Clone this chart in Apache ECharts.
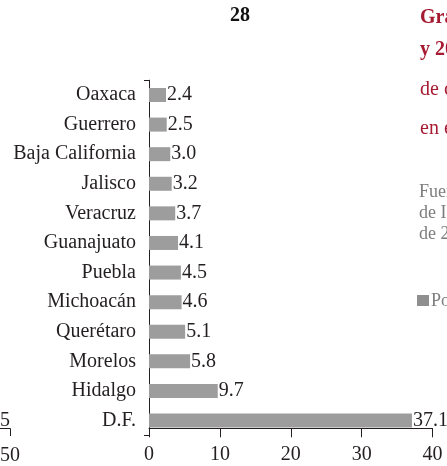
<!DOCTYPE html>
<html>
<head>
<meta charset="utf-8">
<script src="https://cdn.jsdelivr.net/npm/echarts@6/dist/echarts.min.js"></script>
<style>
  html, body { margin: 0; padding: 0; background: #fff; }
  #main { width: 447px; height: 466px; }
</style>
</head>
<body>
<div id="main"></div>
<script>
// datos de la gráfica (de arriba hacia abajo)
const states = ['Oaxaca', 'Guerrero', 'Baja California', 'Jalisco', 'Veracruz', 'Guanajuato',
  'Puebla', 'Michoacán', 'Querétaro', 'Morelos', 'Hidalgo', 'D.F.'];
const values = [2.4, 2.5, 3.0, 3.2, 3.7, 4.1, 4.5, 4.6, 5.1, 5.8, 9.7, 37.1];
const xTicks = [0, 10, 20, 30, 40];

const serif = '"Liberation Serif", "DejaVu Serif", serif';
const ink = '#231f20';
const red = '#a51a30';
const grey = '#7d7d7d';

var chart = echarts.init(document.getElementById('main'));

var option = {
  animation: false,
  textStyle: { fontFamily: serif },
  grid: { left: 149, right: 14.5, top: 80.2, bottom: 30.7, containLabel: false },
  xAxis: {
    type: 'value',
    min: xTicks[0],
    max: xTicks[xTicks.length - 1],
    interval: xTicks[1] - xTicks[0],
    offset: -7,
    splitLine: { show: false },
    axisLine: { show: true, lineStyle: { color: ink, width: 1 } },
    axisTick: { show: true, inside: false, length: 9, lineStyle: { color: ink } },
    axisLabel: { color: ink, fontSize: 20, fontFamily: serif, margin: 16 }
  },
  yAxis: {
    type: 'category',
    data: states,
    inverse: true,
    axisLine: { show: true, lineStyle: { color: ink, width: 1 } },
    axisTick: {
      show: true, length: 5, lineStyle: { color: ink },
      interval: function (index) { return index === 0; }
    },
    axisLabel: { color: ink, fontSize: 20, fontFamily: serif, margin: 13, padding: [4, 0, 0, 0] }
  },
  series: [{
    type: 'bar',
    data: values,
    barWidth: 14,
    itemStyle: { color: '#9d9d9d' },
    label: {
      show: true,
      position: 'right',
      distance: 1,
      color: ink,
      fontSize: 20,
      fontFamily: serif,
      padding: [3, 0, 0, 0],
      formatter: function (p) { return p.value.toFixed(1); }
    }
  }],
  graphic: [
    // número de página
    { type: 'text', x: 240, y: 16, style: { text: '28', font: 'bold 20px ' + serif, fill: '#111', align: 'center', verticalAlign: 'middle' } },
    // título (cortado por el borde)
    { type: 'text', x: 420, y: 18, style: { text: 'Gráfica 3. Porcentaje', font: 'bold 20px ' + serif, fill: red, verticalAlign: 'middle' } },
    { type: 'text', x: 420, y: 50, style: { text: 'y 2010', font: 'bold 20px ' + serif, fill: red, verticalAlign: 'middle' } },
    { type: 'text', x: 420, y: 90, style: { text: 'de crecimiento', font: '20px ' + serif, fill: red, verticalAlign: 'middle' } },
    { type: 'text', x: 420, y: 129, style: { text: 'en el periodo', font: '20px ' + serif, fill: red, verticalAlign: 'middle' } },
    // fuente
    { type: 'text', x: 419, y: 192, style: { text: 'Fuente: elaboración', font: '18px ' + serif, fill: grey, verticalAlign: 'middle' } },
    { type: 'text', x: 419, y: 213, style: { text: 'de INEGI', font: '18px ' + serif, fill: grey, verticalAlign: 'middle' } },
    { type: 'text', x: 419, y: 234, style: { text: 'de 2010', font: '18px ' + serif, fill: grey, verticalAlign: 'middle' } },
    // leyenda
    { type: 'rect', shape: { x: 417, y: 295, width: 12, height: 11 }, style: { fill: '#8f8f8f' } },
    { type: 'text', x: 431, y: 301, style: { text: 'Porcentaje', font: '18px ' + serif, fill: grey, verticalAlign: 'middle' } },
    // restos de la gráfica vecina
    { type: 'text', x: 10, y: 421, style: { text: '5', font: '20px ' + serif, fill: ink, align: 'right', verticalAlign: 'middle' } },
    { type: 'polyline', shape: { points: [[0, 428.5], [10.5, 428.5], [10.5, 436]] }, style: { stroke: ink, lineWidth: 1, fill: null } },
    { type: 'text', x: 10, y: 456, style: { text: '50', font: '20px ' + serif, fill: ink, align: 'center', verticalAlign: 'middle' } }
  ]
};

chart.setOption(option);
</script>
</body>
</html>
